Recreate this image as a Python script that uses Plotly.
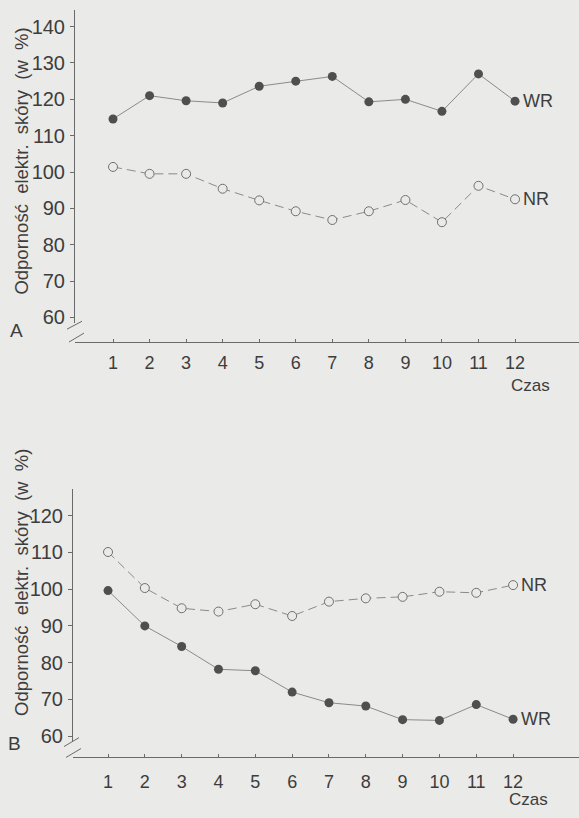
import plotly.graph_objects as go

W, H = 579, 818

czas = [1, 2, 3, 4, 5, 6, 7, 8, 9, 10, 11, 12]
a_wr = [114.6, 121, 119.6, 119, 123.6, 125, 126.3, 119.3, 120, 116.7, 127, 119.5]
a_nr = [101.4, 99.5, 99.5, 95.4, 92.2, 89.2, 86.8, 89.2, 92.3, 86.2, 96.2, 92.5]
b_wr = [99.6, 90, 84.4, 78.2, 77.8, 72, 69.1, 68.2, 64.5, 64.3, 68.6, 64.6]
b_nr = [110.1, 100.3, 94.8, 93.9, 95.9, 92.7, 96.6, 97.5, 97.9, 99.3, 99.0, 101.1]
a_yticks = [60, 70, 80, 90, 100, 110, 120, 130, 140]
b_yticks = [60, 70, 80, 90, 100, 110, 120]
y_title = "Odporność  elektr.  skóry  (w  %)"
x_title = "Czas"

BG = "#eaeae8"
TXT = "#3d3d3d"
LINE = "#8a8a8a"
DOT = "#4f4f4f"
AX = "#6a6a6a"
FONT = "Liberation Sans, Arial, sans-serif"


def px(x, y):
    return x / W, 1 - y / H


fig = go.Figure()

for xa, ya, wr, nr in [("x", "y", a_wr, a_nr), ("x2", "y2", b_wr, b_nr)]:
    fig.add_trace(go.Scatter(x=czas, y=wr, xaxis=xa, yaxis=ya, mode="lines+markers",
                             line=dict(color=LINE, width=1),
                             marker=dict(symbol="circle", size=9, color=DOT,
                                         line=dict(width=0)),
                             showlegend=False, hoverinfo="skip"))
    fig.add_trace(go.Scatter(x=czas, y=nr, xaxis=xa, yaxis=ya, mode="lines+markers",
                             line=dict(color=LINE, width=1, dash="9px,5px"),
                             marker=dict(symbol="circle", size=9, color=BG,
                                         line=dict(width=1, color="#707070")),
                             showlegend=False, hoverinfo="skip"))

common_x = dict(tickvals=czas, ticks="inside", ticklen=3, tickcolor=AX,
                showline=True, linecolor=AX, linewidth=1, showgrid=False,
                zeroline=False, tickfont=dict(size=18, color=TXT, family=FONT))
common_y = dict(ticks="outside", ticklen=4, tickcolor=AX, showline=True,
                linecolor=AX, linewidth=1, showgrid=False, zeroline=False,
                tickfont=dict(size=20, color=TXT, family=FONT),
                ticklabelstandoff=1)

fig.update_layout(
    width=W, height=H, margin=dict(l=0, r=0, t=0, b=0),
    paper_bgcolor=BG, plot_bgcolor=BG,
    font=dict(family=FONT, color=TXT),
    xaxis=dict(domain=[75 / W, 1], range=[-0.04, 13.75], anchor="free",
               position=1 - 345 / H, ticklabelstandoff=4, **common_x),
    yaxis=dict(domain=[1 - 326 / H, 1 - 10 / H], range=[58.4, 144.6], anchor="x",
               tickvals=a_yticks, **common_y),
    xaxis2=dict(domain=[73 / W, 1], range=[0.049, 13.79], anchor="free",
                position=1 - 764 / H, ticklabelstandoff=8, **common_x),
    yaxis2=dict(domain=[1 - 747 / H, 1 - 493 / H], range=[58.8, 127.3], anchor="x2",
                tickvals=b_yticks, **common_y),
)

ann = []
# series labels at the last point
for xa, ya, wr, nr in [("x", "y", a_wr, a_nr), ("x2", "y2", b_wr, b_nr)]:
    for val, lab in [(wr[-1], "WR"), (nr[-1], "NR")]:
        ann.append(dict(x=czas[-1], y=val, xref=xa, yref=ya, text=lab,
                        showarrow=False, xanchor="left", xshift=6,
                        font=dict(size=18, color=TXT, family=FONT)))
# axis titles, panel letters
for (cx, cy) in [(22, 163), (22, 588)]:
    x0, y0 = px(cx, cy)
    ann.append(dict(x=x0, y=y0, xref="paper", yref="paper", text=y_title,
                    textangle=-90, showarrow=False, xanchor="center", yanchor="middle",
                    font=dict(size=18.5, color=TXT, family=FONT)))
for (cx, cy) in [(530, 389), (528, 806)]:
    x0, y0 = px(cx, cy)
    ann.append(dict(x=x0, y=y0, xref="paper", yref="paper", text=x_title,
                    showarrow=False, xanchor="center", yanchor="middle",
                    font=dict(size=17, color=TXT, family=FONT)))
for lab, (cx, cy) in [("A", (16, 333)), ("B", (15, 750))]:
    x0, y0 = px(cx, cy)
    ann.append(dict(x=x0, y=y0, xref="paper", yref="paper", text=lab,
                    showarrow=False, xanchor="center", yanchor="middle",
                    font=dict(size=19, color=TXT, family=FONT)))
fig.update_layout(annotations=ann)

# axis break marks
shapes = []
for (xa, ya, xb, yb) in [(67, 332, 82, 324), (69, 345, 84, 336),
                         (64, 753, 79, 744), (66, 764, 81, 755)]:
    x0, y0 = px(xa, ya)
    x1, y1 = px(xb, yb)
    shapes.append(dict(type="line", xref="paper", yref="paper", x0=x0, y0=y0,
                       x1=x1, y1=y1, line=dict(color=AX, width=1)))
fig.update_layout(shapes=shapes)

fig.write_html("out.html", config={"displayModeBar": False},
               post_script="document.body.style.margin='0';document.body.style.background='" + BG + "';")
